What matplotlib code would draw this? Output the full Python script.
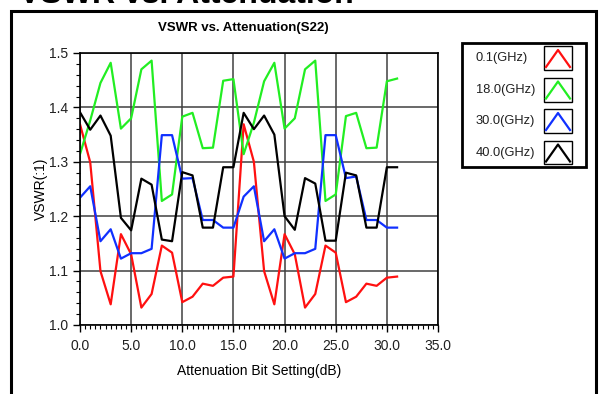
import numpy as np
import matplotlib.pyplot as plt
from matplotlib.patches import Rectangle
from matplotlib.ticker import MultipleLocator, FormatStrFormatter

plt.rcParams['font.family'] = ['Liberation Sans', 'DejaVu Sans']

# attenuation settings 0..31 dB
atten = list(range(32))

freq_labels = ['0.1(GHz)', '18.0(GHz)', '30.0(GHz)', '40.0(GHz)']
colors = ['#ff1010', '#22ee22', '#1030ff', '#000000']

vswr_01 = [1.369, 1.299, 1.099, 1.038, 1.167, 1.130, 1.032, 1.057,
           1.146, 1.133, 1.042, 1.052, 1.076, 1.072, 1.087, 1.089,
           1.369, 1.300, 1.099, 1.038, 1.167, 1.130, 1.032, 1.057,
           1.146, 1.133, 1.042, 1.052, 1.076, 1.072, 1.087, 1.089]
vswr_18 = [1.314, 1.376, 1.445, 1.482, 1.361, 1.380, 1.470, 1.486,
           1.228, 1.240, 1.383, 1.390, 1.325, 1.326, 1.449, 1.452,
           1.314, 1.372, 1.448, 1.482, 1.361, 1.380, 1.470, 1.486,
           1.228, 1.240, 1.384, 1.390, 1.325, 1.326, 1.448, 1.453]
vswr_30 = [1.234, 1.255, 1.154, 1.176, 1.122, 1.132, 1.132, 1.140,
           1.349, 1.349, 1.269, 1.270, 1.193, 1.193, 1.179, 1.179,
           1.236, 1.255, 1.154, 1.176, 1.122, 1.132, 1.132, 1.140,
           1.349, 1.349, 1.270, 1.273, 1.193, 1.193, 1.179, 1.179]
vswr_40 = [1.391, 1.359, 1.385, 1.348, 1.197, 1.174, 1.269, 1.258,
           1.157, 1.154, 1.281, 1.275, 1.179, 1.179, 1.290, 1.290,
           1.390, 1.360, 1.385, 1.350, 1.200, 1.175, 1.270, 1.260,
           1.155, 1.155, 1.280, 1.275, 1.179, 1.179, 1.290, 1.290]
series = [vswr_01, vswr_18, vswr_30, vswr_40]

W, H = 600, 394
fig = plt.figure(figsize=(6, 3.94), dpi=100)

# outer frame and big heading
fig.patches.append(Rectangle((11 / W, -0.1), 585 / W, 1.1 - 11 / H,
                             transform=fig.transFigure, fill=False,
                             edgecolor='black', linewidth=2.2))
fig.text(19 / W, 1 - 3 / H, 'VSWR vs. Attenuation', fontsize=23,
         fontweight='bold', va='baseline', ha='left')
fig.text(243 / W, 1 - 28 / H, 'VSWR vs. Attenuation(S22)', fontsize=9.5,
         fontweight='bold', va='center', ha='center')

ax = fig.add_axes([80 / W, 1 - 325 / H, 358 / W, 272 / H])
for y, c in zip(series, colors):
    ax.plot(atten, y, color=c, linewidth=1.6)

ax.set_xlim(0, 35)
ax.set_ylim(1.0, 1.5)
ax.xaxis.set_major_locator(MultipleLocator(5))
ax.xaxis.set_minor_locator(MultipleLocator(0.5))
ax.yaxis.set_major_locator(MultipleLocator(0.1))
ax.yaxis.set_minor_locator(MultipleLocator(0.02))
ax.xaxis.set_major_formatter(FormatStrFormatter('%.1f'))
ax.yaxis.set_major_formatter(FormatStrFormatter('%.1f'))
ax.tick_params(which='major', length=5, width=1, labelsize=10,
               labelcolor='#202020')
ax.tick_params(axis='x', which='major', pad=5)
ax.tick_params(which='minor', length=3, width=0.8)
ax.grid(True, which='major', color='#404040', linewidth=1.1)
for s in ax.spines.values():
    s.set_linewidth(1.2)

ax.set_xlabel('Attenuation Bit Setting(dB)', fontsize=10)
ax.set_ylabel('VSWR(:1)', fontsize=10)
ax.xaxis.set_label_coords(0.5, -0.145)
ax.yaxis.set_label_coords(-0.09, 0.5)

# legend panel with little line samples
lx0, ly0, lx1, ly1 = 462, 43, 586, 167
fig.patches.append(Rectangle((lx0 / W, 1 - ly1 / H), (lx1 - lx0) / W,
                             (ly1 - ly0) / H, transform=fig.transFigure,
                             fill=False, edgecolor='black', linewidth=2))
for k, (lab, c) in enumerate(zip(freq_labels, colors)):
    yc = 58 + 31.5 * k
    fig.text(476 / W, 1 - yc / H, lab, fontsize=9.3, va='center',
             ha='left', color='#202020')
    fig.patches.append(Rectangle((544 / W, 1 - (yc + 12) / H), 28 / W,
                                 24 / H, transform=fig.transFigure,
                                 fill=False, edgecolor='black', linewidth=1))
    xs = np.array([546, 558, 570]) / W
    ys = 1 - np.array([yc + 9, yc - 8, yc + 9]) / H
    fig.add_artist(plt.Line2D(xs, ys, color=c, linewidth=1.6,
                              transform=fig.transFigure))

fig.savefig('out.png', dpi=100)
